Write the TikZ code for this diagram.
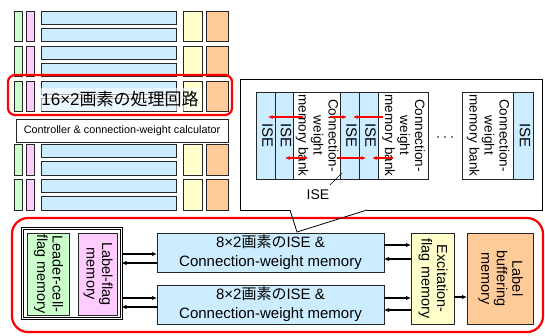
\documentclass[tikz,border=0pt]{standalone}
\usepackage{fontspec}
\setmainfont{Liberation Sans}
\newfontfamily\jp{Noto Sans CJK JP}
\usetikzlibrary{arrows.meta}
\definecolor{cblue}{HTML}{CCECFF}
\definecolor{cgreen}{HTML}{CCFFCC}
\definecolor{cpink}{HTML}{FFCCFF}
\definecolor{cyel}{HTML}{FFFFCC}
\definecolor{corange}{HTML}{FFCC99}
\newcommand{\vtx}[1]{\rotatebox[origin=c]{-90}{\begin{tabular}{@{}c@{}}#1\end{tabular}}}
\begin{document}
\begin{tikzpicture}[x=1pt,y=-1pt,
  bx/.style={draw=black!85, line width=0.8pt, inner sep=0pt, outer sep=0pt, anchor=north west},
  cell/.style={draw=black!85, line width=0.7pt},
  arr/.style={line width=1.3pt, -{Latex[length=5pt,width=4.5pt]}},
  rarr/.style={red, line width=1.3pt, -{Latex[length=4.5pt,width=4pt]}},
  redframe/.style={draw=red, line width=2.2pt},
  isef/.style={font=\fontsize{15}{16}\selectfont},
  bankf/.style={font=\fontsize{13.5}{15}\selectfont},
  bigf/.style={font=\fontsize{14.5}{15.5}\selectfont}]
\useasboundingbox (0,0) rectangle (545,335);

% ---- top-left array of processing circuits ----
\foreach \t/\h in {11/30,46/30,81/30,144/31,179/31}{
  \draw[cell, fill=cgreen] (14,\t) rectangle (22,\t+\h);
  \draw[cell, fill=cpink] (26,\t) rectangle (34,\t+\h);
  \draw[cell, fill=cblue] (41,\t) rectangle (176,\t+13);
  \draw[cell, fill=cblue] (41,\t+17) rectangle (176,\t+\h);
  \draw[cell, fill=cyel] (183,\t) rectangle (202,\t+\h);
  \draw[cell, fill=corange] (206,\t) rectangle (228,\t+\h);
}
\node[fill=white, fill opacity=0.6, text opacity=1, minimum width=164, minimum height=23, inner sep=0pt,
      font=\fontsize{17}{18}\selectfont] (lbl) at (120,99.5) {16×2{\jp 画素の処理回路}};
\draw[redframe, rounded corners=7pt] (8,75) rectangle (232,115);
\node[bx, fill=white, minimum width=212, minimum height=23, font=\fontsize{10.8}{12}\selectfont]
  (ctrl) at (16,119) {Controller \& connection-weight calculator};

% ---- callout ----
\draw[fill=white, line width=0.8pt] (290,210) -- (240,210) -- (240,79) -- (542,79) -- (542,210) -- (367,210);
\node[bx, fill=cblue, minimum width=19, minimum height=87, isef] (i1) at (256,92) {\vtx{ISE}};
\node[bx, fill=cblue, minimum width=18, minimum height=87, isef] (i2) at (275,92) {\vtx{ISE}};
\node[bx, fill=white, minimum width=47, minimum height=87, bankf] (m1) at (293,92) {\vtx{Connection-\\weight\\memory bank}};
\node[bx, fill=cblue, minimum width=19, minimum height=87, isef] (i3) at (340,92) {\vtx{ISE}};
\node[bx, fill=cblue, minimum width=19, minimum height=87, isef] (i4) at (359,92) {\vtx{ISE}};
\node[bx, fill=white, minimum width=50, minimum height=87, bankf] (m2) at (378,92) {\vtx{Connection-\\weight\\memory bank}};
\node[bx, fill=white, minimum width=51, minimum height=87, bankf] (m3) at (462,92) {\vtx{Connection-\\weight\\memory bank}};
\node[bx, fill=cblue, minimum width=20, minimum height=87, isef] (i5) at (513,92) {\vtx{ISE}};
\foreach \x in {438,445,452} \fill (\x,137) circle (0.9pt);
% red arrows from memory banks to ISEs
\draw[rarr] (303,117) -- (268,117);
\draw[rarr] (330,117) -- (347,117);
\draw[rarr] (383,117) -- (353,117);
\draw[rarr] (307,158) -- (285,158);
\draw[rarr] (337,158) -- (366,158);
\draw[rarr] (393,158) -- (372,158);
\node[font=\fontsize{14}{16}\selectfont, inner sep=1pt] (iselbl) at (318,195) {ISE};
\draw[line width=0.6pt] (330,185) -- ([shift={(2,-6)}]i3.south west);

% ---- bottom block ----
\draw[redframe, rounded corners=16pt] (12,218) rectangle (543,332);
\node[draw, double, double distance=1.2pt, line width=0.9pt, inner sep=0pt, outer sep=0pt,
      minimum width=99, minimum height=90, anchor=north west] (blk) at (22.5,228.5) {};
\node[bx, fill=cgreen, minimum width=42, minimum height=82, bigf] (lc) at (27,233) {\vtx{Leader-cell-\\flag memory}};
\node[bx, fill=cpink, minimum width=39, minimum height=82, bigf] (lf) at (78,233) {\vtx{Label-flag\\memory}};
\node[bx, fill=cblue, minimum width=227, minimum height=39, align=center, font=\fontsize{15}{19}\selectfont]
  (b1) at (157,233) {8×2{\jp 画素の}ISE \&\\Connection-weight memory};
\node[bx, fill=cblue, minimum width=227, minimum height=39, align=center, font=\fontsize{15}{19}\selectfont]
  (b2) at (157,285) {8×2{\jp 画素の}ISE \&\\Connection-weight memory};
\node[bx, fill=cyel, minimum width=43, minimum height=91, bigf] (ex) at (411,233) {\vtx{Excitation-\\flag memory}};
\node[bx, fill=corange, minimum width=66, minimum height=91, bigf] (lb) at (467,233) {\vtx{Label\\buffering\\memory}};

\draw[arr] (blk.east |- 0,254) -- (b1.west |- 0,254);
\draw[arr] (b1.west |- 0,263) -- (blk.east |- 0,263);
\draw[arr] (blk.east |- 0,298) -- (b2.west |- 0,298);
\draw[arr] (b2.west |- 0,307) -- (blk.east |- 0,307);
\draw[arr] (b1.east |- 0,245) -- (ex.west |- 0,245);
\draw[arr] (ex.west |- 0,259) -- (b1.east |- 0,259);
\draw[arr] (b2.east |- 0,298) -- (ex.west |- 0,298);
\draw[arr] (ex.west |- 0,310) -- (b2.east |- 0,310);
\draw[arr] (ex.east |- 0,297) -- (lb.west |- 0,297);

% callout pointer over the red frame
\draw[line width=0.8pt] (290,210) -- (297,232) -- (367,210);
\end{tikzpicture}
\end{document}
